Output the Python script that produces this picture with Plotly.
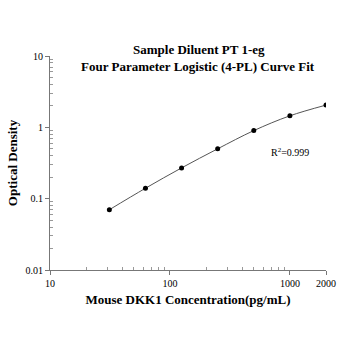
import plotly.graph_objects as go

conc = [31.25, 62.5, 125, 250, 500, 1000, 2000]
od = [0.070, 0.140, 0.270, 0.500, 0.900, 1.450, 2.050]

x_tickvals = [10, 100, 1000, 2000]
x_ticktext = ["10", "100", "1000", "2000"]
y_tickvals = [0.01, 0.1, 1, 10]
y_ticktext = ["0.01", "0.1", "1", "10"]
x_minor = [m * 10 ** e for e in (1, 2) for m in range(2, 10)]
y_minor = [m * 10.0 ** e for e in (-2, -1, 0) for m in range(2, 10)]

W, H = 348, 348
L, R, T, B = 41, 18, 56, 78

fig = go.Figure()
fig.add_trace(go.Scatter(
    x=conc, y=od, mode="lines", line=dict(color="#555555", width=1, shape="spline"),
    hoverinfo="skip", showlegend=False))
fig.add_trace(go.Scatter(
    x=conc, y=od, mode="markers", marker=dict(color="black", size=5),
    showlegend=False))

serif = "Liberation Serif, Times New Roman, serif"

def px_x(p):
    return (p - L) / (W - L - R)

def px_y(p):
    return 1 - (p - T) / (H - T - B)

fig.update_layout(
    width=W, height=H,
    margin=dict(l=L, r=R, t=T, b=B),
    paper_bgcolor="white", plot_bgcolor="white",
    font=dict(family=serif, color="black", size=10),
    xaxis=dict(
        type="log", range=[1, 3.30103], showgrid=False, zeroline=False,
        showline=True, linecolor="#777777", linewidth=1,
        ticks="outside", ticklen=4, tickcolor="#777777",
        tickvals=x_tickvals, ticktext=x_ticktext,
        tickfont=dict(family=serif, size=10),
        minor=dict(ticks="inside", ticklen=3, tickcolor="#999999", showgrid=False,
                   tickmode="array", tickvals=x_minor),
        title=dict(text="<b>Mouse DKK1 Concentration(pg/mL)</b>",
                   font=dict(family=serif, size=13), standoff=6),
    ),
    yaxis=dict(
        type="log", range=[-2, 1], showgrid=False, zeroline=False,
        showline=True, linecolor="#777777", linewidth=1,
        ticks="outside", ticklen=4, tickcolor="#777777",
        tickvals=y_tickvals, ticktext=y_ticktext,
        tickfont=dict(family=serif, size=10),
        minor=dict(ticks="inside", ticklen=3, tickcolor="#999999", showgrid=False,
                   tickmode="array", tickvals=y_minor),
        title=dict(text="<b>Optical Density</b>",
                   font=dict(family=serif, size=13), standoff=4),
    ),
    annotations=[
        dict(text="<b>Sample Diluent PT 1-eg</b>", xref="paper", yref="paper",
             x=px_x(197), y=px_y(49), showarrow=False,
             font=dict(family=serif, size=13), xanchor="center", yanchor="middle"),
        dict(text="<b>Four Parameter Logistic (4-PL) Curve Fit</b>", xref="paper", yref="paper",
             x=px_x(196), y=px_y(67), showarrow=False,
             font=dict(family=serif, size=13), xanchor="center", yanchor="middle"),
        dict(text="R<sup>2</sup>=0.999", xref="paper", yref="paper",
             x=px_x(292), y=px_y(152), showarrow=False,
             font=dict(family=serif, size=10), xanchor="center", yanchor="middle"),
    ],
)

fig.write_html("out.html")
